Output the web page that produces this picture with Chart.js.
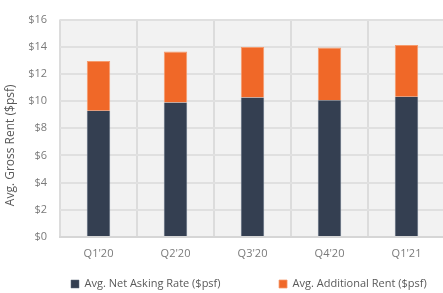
<!DOCTYPE html>
<html>
<head>
<meta charset="utf-8">
<script src="https://cdn.jsdelivr.net/npm/chart.js@4/dist/chart.umd.min.js"></script>
<style>
  html, body { margin: 0; padding: 0; background: #ffffff; overflow: hidden; }
  #wrap { width: 446px; height: 293px; position: relative; }
</style>
</head>
<body>
<div id="wrap"><canvas id="c" width="446" height="293"></canvas></div>
<script>
const categories = ["Q1'20", "Q2'20", "Q3'20", "Q4'20", "Q1'21"];
const netAskingRate = [9.30, 9.90, 10.26, 10.06, 10.33];
const additionalRent = [3.65, 3.75, 3.73, 3.88, 3.80];
const seriesNames = ["Avg. Net Asking Rate ($psf)", "Avg. Additional Rent ($psf)"];
const yAxisTitle = "Avg. Gross Rent ($psf)";
const yMin = 0, yMax = 16, yStep = 2;

const FONT = "'Open Sans', 'Noto Sans', sans-serif";

const plotBg = {
  id: 'plotBg',
  beforeDraw(chart) {
    const {ctx, chartArea: a} = chart;
    ctx.save();
    ctx.fillStyle = '#f2f2f2';
    ctx.fillRect(a.left, a.top, a.right - a.left, a.bottom - a.top);
    ctx.restore();
    // legend spacing & y title placement tweaks (draw-time only)
    const lg = chart.legend;
    if (lg) {
      lg._saved = {top: lg.top, left: lg.left, right: lg.right, bottom: lg.bottom};
      lg.options.labels.padding = 58.5;
      lg.left = 12.5;
      lg.right = 2000;
      lg.top = 220;
      lg.bottom = 293;
    }
    const ys = chart.scales.y;
    ys._savedTB = [ys.top, ys.bottom];
    ys.top += 17; ys.bottom += 17;
  },
  afterDraw(chart) {
    const lg = chart.legend;
    if (lg && lg._saved) {
      lg.options.labels.padding = 10;
      Object.assign(lg, lg._saved);
    }
    const ys = chart.scales.y;
    if (ys._savedTB) { ys.top = ys._savedTB[0]; ys.bottom = ys._savedTB[1]; }
  }
};

new Chart(document.getElementById('c'), {
  type: 'bar',
  data: {
    labels: categories,
    datasets: [
      {
        label: seriesNames[0],
        data: netAskingRate,
        backgroundColor: '#343f51',
        borderColor: '#5d687a',
        borderWidth: { left: 1, right: 1, top: 0, bottom: 0 },
        borderSkipped: false,
        categoryPercentage: 1,
        barPercentage: 0.304
      },
      {
        label: seriesNames[1],
        data: additionalRent,
        backgroundColor: '#f06828',
        borderColor: '#f59a6c',
        borderWidth: { left: 1, right: 1, top: 1, bottom: 0 },
        borderSkipped: false,
        categoryPercentage: 1,
        barPercentage: 0.304
      }
    ]
  },
  options: {
    responsive: false,
    animation: false,
    devicePixelRatio: 1,
    layout: { padding: { top: 14, right: 1, bottom: 0, left: 0 } },
    plugins: {
      legend: {
        position: 'bottom',
        align: 'start',
        fullSize: false,
        labels: {
          boxWidth: 8,
          boxHeight: 8,
          padding: 10,
          color: '#595959',
          font: { family: FONT, size: 11 }
        }
      },
      tooltip: { enabled: false }
    },
    scales: {
      x: {
        stacked: true,
        grid: { color: '#dcdcdc', lineWidth: 2, drawTicks: false, offset: true },
        border: { display: true, color: '#d6d6d6', width: 2 },
        ticks: { color: '#7a7a7a', padding: 10, font: { family: FONT, size: 11 } },
        afterFit(s) { s.height = 25; }
      },
      y: {
        stacked: true,
        min: yMin,
        max: yMax,
        grid: { color: '#e0e0e0', lineWidth: 2, drawTicks: false },
        border: { display: false },
        ticks: {
          stepSize: yStep,
          color: '#7a7a7a',
          padding: 13,
          font: { family: FONT, size: 11 },
          callback: (v) => '$' + v
        },
        title: {
          display: true,
          text: yAxisTitle,
          color: '#595959',
          font: { family: FONT, size: 12 },
          padding: { top: 3, bottom: 3 }
        },
        afterFit(s) { s.width = 60; }
      }
    }
  },
  plugins: [plotBg]
});
</script>
</body>
</html>
